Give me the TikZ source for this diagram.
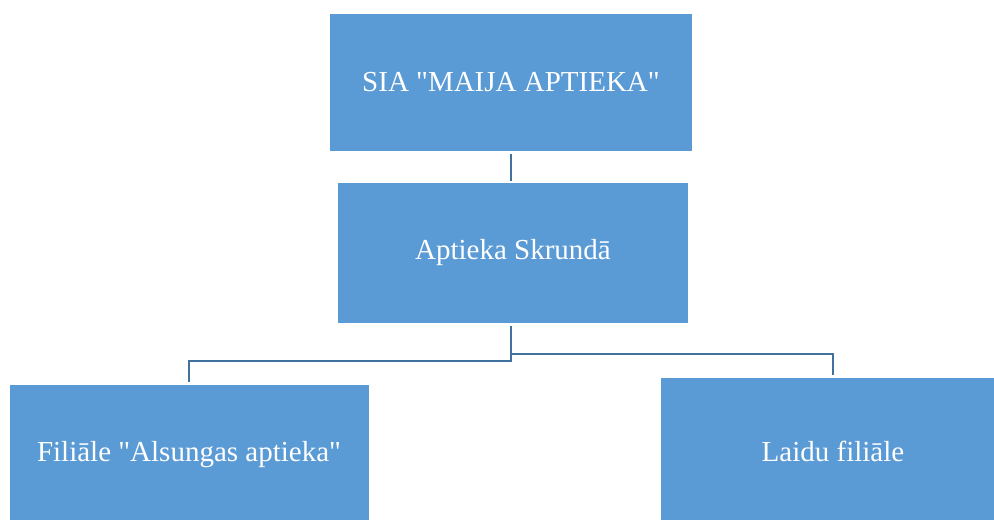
\documentclass[tikz,border=0pt]{standalone}
\usepackage{fontspec}
\setmainfont{Liberation Serif}[Ligatures=TeXOff]
\definecolor{boxfill}{HTML}{5B9BD5}
\definecolor{linkcol}{HTML}{41719C}
\begin{document}
\begin{tikzpicture}[x=1pt,y=-1pt,
  orgbox/.style={fill=boxfill, draw=none, text=white, inner sep=0pt,
    font=\fontsize{29}{34}\selectfont},
  link/.style={draw=linkcol, line width=2.5pt}]
\useasboundingbox (0,0) rectangle (994,520);
\node[orgbox, minimum width=362pt, minimum height=137pt] (top) at (511,82.5) {SIA "MAIJA APTIEKA"};
\node[orgbox, minimum width=350pt, minimum height=140pt] (mid) at (513,253) {Aptieka Skrundā};
\node[orgbox, minimum width=359pt, minimum height=135pt] (left) at (189.5,452.5) {};
\node[text=white, font=\fontsize{29}{34}\selectfont] (ltext) at (189,455) {Filiāle "Alsungas aptieka"};
\node[orgbox, minimum width=333pt, minimum height=142pt] (right) at (827.5,449) {};
\node[text=white, font=\fontsize{29}{34}\selectfont] (rtext) at (833,451) {Laidu filiāle};
\coordinate (a1) at (511,154);
\coordinate (a2) at (511,181);
\coordinate (b1) at (511,326);
\coordinate (b2) at (511,361);
\coordinate (b3) at (189,361);
\coordinate (b4) at (189,382);
\coordinate (c1) at (511,354);
\coordinate (c2) at (833,354);
\coordinate (c3) at (833,375);
\draw[link] (a1) -- (a2);
\draw[link] (b1) -- (b2) -- (b3) -- (b4);
\draw[link] (c1) -- (c2) -- (c3);
\end{tikzpicture}
\end{document}
